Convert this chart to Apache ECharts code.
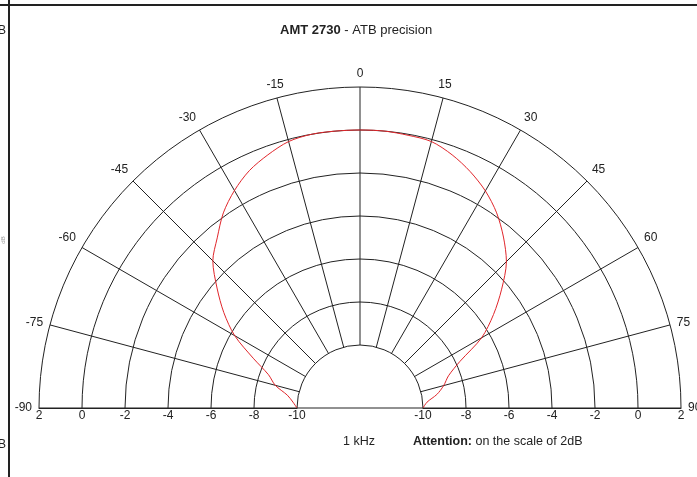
<!DOCTYPE html>
<html>
<head>
<meta charset="utf-8">
<script src="https://cdn.jsdelivr.net/npm/echarts@6/dist/echarts.min.js"></script>
<style>
  html, body { margin: 0; padding: 0; background: #fff; }
  #polarChart { width: 697px; height: 477px; }
</style>
</head>
<body>
<div id="polarChart"></div>
<script>
// off-axis angle (deg) and level (dB)
const angles = [-90, -85, -80, -75, -70, -65, -60, -55, -50, -45, -40, -35, -30, -25, -20, -15, -10, -5,
  0, 5, 10, 15, 20, 25, 30, 35, 40, 45, 50, 55, 60, 65, 70, 75, 80, 85, 90];
const levels = [-10, -9.8, -9.5, -8.85, -8.4, -7.45, -6.2, -5.2, -4.25, -3.25, -2.6, -1.85, -1.25, -0.75, -0.4, -0.1, 0, 0,
  0, 0, -0.05, -0.1, -0.4, -0.8, -1.27, -1.85, -2.55, -3.3, -4.33, -5.35, -6.4, -7.8, -8.55, -8.9, -9.3, -9.8, -10];
const angleRange = [-90, 90];
const angleStep = 15;
const levelRange = [-10, 2];
const levelStep = 2;

const font = 'Liberation Sans, Arial, sans-serif';
const ink = '#222';
const cx = 360, cy = 408, r0 = 63, r1 = 321;

const chart = echarts.init(document.getElementById('polarChart'), null, { renderer: 'canvas' });

const radiusBase = {
  type: 'value',
  min: levelRange[0],
  max: levelRange[1],
  interval: levelStep,
  axisTick: { show: false },
  axisLine: { show: true, lineStyle: { color: ink, width: 1 } },
  axisLabel: { color: ink, fontSize: 12, fontFamily: font, margin: 2 },
};

const option = {
  animation: false,
  backgroundColor: '#fff',
  title: {
    text: '{b|AMT 2730} - ATB precision',
    left: 275,
    top: 19,
    textStyle: {
      fontSize: 13, fontWeight: 'normal', color: ink, fontFamily: font,
      rich: { b: { fontSize: 13, fontWeight: 'bold', color: ink, fontFamily: font } },
    },
  },
  polar: [
    { center: [cx, cy], radius: [r0, r1] },
    { center: [cx, cy], radius: [r0, r1] },
  ],
  angleAxis: [
    {
      polarIndex: 0,
      type: 'value',
      min: angleRange[0],
      max: angleRange[1],
      interval: angleStep,
      startAngle: 180,
      endAngle: 0,
      clockwise: true,
      axisLine: { show: false },
      axisTick: { show: false },
      axisLabel: { color: ink, fontSize: 12, fontFamily: font, margin: 7 },
      splitLine: { show: true, lineStyle: { color: ink, width: 1 } },
    },
    {
      polarIndex: 1,
      type: 'value',
      min: angleRange[0],
      max: angleRange[1],
      startAngle: 0,
      endAngle: 180,
      clockwise: false,
      axisLine: { show: false },
      axisTick: { show: false },
      axisLabel: { show: false },
      splitLine: { show: false },
    },
  ],
  radiusAxis: [
    Object.assign({}, radiusBase, {
      polarIndex: 0,
      splitLine: { show: true, lineStyle: { color: ink, width: 1 } },
    }),
    Object.assign({}, radiusBase, {
      polarIndex: 1,
      splitLine: { show: false },
      axisLabel: Object.assign({}, radiusBase.axisLabel, { margin: -14 }),
    }),
  ],
  series: [
    {
      type: 'line',
      coordinateSystem: 'polar',
      polarIndex: 0,
      data: angles.map((a, i) => [levels[i], a]),
      symbol: 'none',
      smooth: 0.3,
      lineStyle: { color: '#e0262b', width: 1 },
      z: 5,
    },
  ],
  graphic: [
    { type: 'line', shape: { x1: 0, y1: 5, x2: 697, y2: 5 }, style: { stroke: ink, lineWidth: 2 } },
    { type: 'line', shape: { x1: 9, y1: 0, x2: 9, y2: 477 }, style: { stroke: ink, lineWidth: 2 } },
    { type: 'line', shape: { x1: cx - r0, y1: cy, x2: cx + r0, y2: cy }, style: { stroke: ink, lineWidth: 1 } },
    { type: 'text', x: 6, y: 31, style: { text: 'dB', fill: ink, font: '12px ' + font, align: 'right', verticalAlign: 'middle' } },
    { type: 'text', x: 6, y: 445, style: { text: 'dB', fill: ink, font: '12px ' + font, align: 'right', verticalAlign: 'middle' } },
    { type: 'text', x: 3, y: 240, rotation: Math.PI / 2, style: { text: 'dB', fill: '#999', font: '6px ' + font, align: 'center', verticalAlign: 'middle' } },
    { type: 'text', x: 343, y: 442, style: { text: '1 kHz', fill: ink, font: '12.5px ' + font, verticalAlign: 'middle' } },
    {
      type: 'text', x: 413, y: 442,
      style: {
        text: '{b|Attention:} on the scale of 2dB',
        fill: ink, font: '12.5px ' + font, verticalAlign: 'middle',
        rich: { b: { fontWeight: 'bold', fontSize: 12.5, fontFamily: font, fill: ink } },
      },
    },
  ],
};

chart.setOption(option);
</script>
</body>
</html>
